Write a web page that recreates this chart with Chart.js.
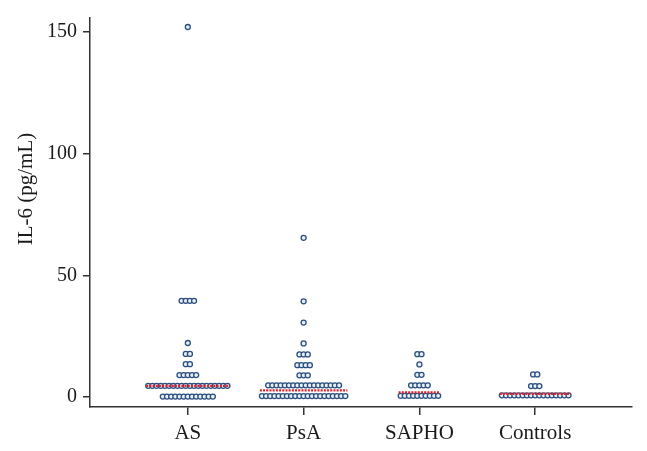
<!DOCTYPE html>
<html>
<head>
<meta charset="utf-8">
<script src="https://cdn.jsdelivr.net/npm/chart.js@4.4.1/dist/chart.umd.min.js"></script>
<style>
  html, body { margin: 0; padding: 0; background: #fff; }
  #wrap { width: 647px; height: 451px; }
</style>
</head>
<body>
<div id="wrap"><canvas id="il6Chart"></canvas></div>
<script>
// ---------- Data ---------- //
const groups = ["AS", "PsA", "SAPHO", "Controls"];
const yTicks = [0, 50, 100, 150];

// IL-6 levels (pg/mL) found in each group, and how many dots sit on each level
const asLevels = [152, 39.5, 22.2, 17.7, 13.5, 9.0, 4.6, 0.2];
const asCounts = [1, 4, 1, 2, 2, 5, 20, 13];
const psaLevels = [65.4, 39.3, 30.6, 22.0, 17.5, 13.1, 8.9, 4.8, 0.4];
const psaCounts = [1, 1, 1, 1, 3, 4, 3, 18, 21];
const saphoLevels = [17.6, 13.4, 9.1, 4.8, 0.5];
const saphoCounts = [2, 1, 2, 5, 10];
const controlsLevels = [9.3, 4.5, 0.7];
const controlsCounts = [2, 3, 17];

const medians = [4.6, 2.7, 1.9, 1.3];

// ---------- Build the dot-plot points ---------- //
const dotStep = 0.036; // horizontal gap between neighbouring dots (x units)

function swarm(center, levels, counts) {
  const pts = [];
  levels.forEach((lvl, i) => {
    const n = counts[i];
    for (let k = 0; k < n; k++) {
      pts.push({ x: center + (k - (n - 1) / 2) * dotStep, y: lvl });
    }
  });
  return pts;
}

const allLevels = [asLevels, psaLevels, saphoLevels, controlsLevels];
const allCounts = [asCounts, psaCounts, saphoCounts, controlsCounts];

const dotData = [];
allLevels.forEach((lv, g) => dotData.push(...swarm(g + 1, lv, allCounts[g])));

// one dashed red bar per group, as wide as its widest row of dots
const medianSets = medians.map((m, g) => {
  const half = (Math.max(...allCounts[g]) * dotStep) / 2;
  return {
    type: "line",
    data: [{ x: g + 1 - half, y: m }, { x: g + 1 + half, y: m }],
    borderColor: "#e3202c",
    borderWidth: 2.2,
    borderDash: [2, 1.2],
    pointRadius: 0,
    order: 0
  };
});

const textColor = "#1a1a1a";
const axisColor = "#333";

// y title + crop of the bottom edge, as in the source image
const extrasPlugin = {
  id: "extras",
  afterDraw(chart) {
    const ctx = chart.ctx;
    ctx.save();
    ctx.fillStyle = "#fff";
    ctx.fillRect(0, 439, chart.width, chart.height - 439);
    ctx.translate(26, 189);
    ctx.rotate(-Math.PI / 2);
    ctx.fillStyle = textColor;
    ctx.font = "21px 'Liberation Serif', 'DejaVu Serif', serif";
    ctx.textAlign = "center";
    ctx.textBaseline = "middle";
    ctx.fillText("IL-6 (pg/mL)", 0, 0);
    ctx.restore();
  }
};

const ctx = document.getElementById("il6Chart").getContext("2d");
new Chart(ctx, {
  type: "scatter",
  data: {
    datasets: [
      {
        data: dotData,
        pointStyle: "circle",
        pointRadius: 2.5,
        borderWidth: 1.3,
        borderColor: "#2a4f7e",
        backgroundColor: "#e8eff7",
        order: 1
      },
      ...medianSets
    ]
  },
  options: {
    responsive: true,
    maintainAspectRatio: false,
    animation: false,
    events: [],
    layout: { padding: { top: 17, right: 15, left: 0, bottom: 0 } },
    plugins: { legend: { display: false }, tooltip: { enabled: false } },
    scales: {
      x: {
        type: "linear",
        min: 0.155,
        max: 4.836,
        afterBuildTicks: s => { s.ticks = groups.map((_, i) => ({ value: i + 1 })); },
        afterFit: s => { s.height = 44; },
        ticks: {
          callback: v => groups[v - 1],
          color: textColor,
          padding: 6,
          maxRotation: 0,
          font: { family: "'Liberation Serif', 'DejaVu Serif', serif", size: 21 }
        },
        grid: { drawOnChartArea: false, drawTicks: true, tickLength: 8, color: axisColor, lineWidth: 1.5 },
        border: { display: true, color: axisColor, width: 1.5 }
      },
      y: {
        min: -4.1,
        max: 155.7,
        afterBuildTicks: s => { s.ticks = yTicks.map(v => ({ value: v })); },
        afterFit: s => { s.width = 90; },
        ticks: {
          color: textColor,
          padding: 6,
          font: { family: "'Liberation Serif', 'DejaVu Serif', serif", size: 20 }
        },
        grid: { drawOnChartArea: false, drawTicks: true, tickLength: 7, color: axisColor, lineWidth: 1.5 },
        border: { display: true, color: axisColor, width: 1.5 }
      }
    }
  },
  plugins: [extrasPlugin]
});
</script>
</body>
</html>
